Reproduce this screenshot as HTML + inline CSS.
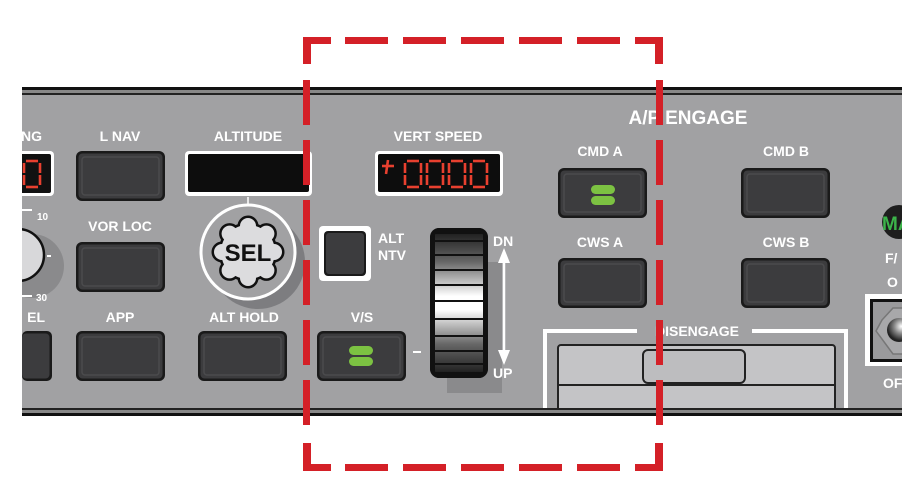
<!DOCTYPE html>
<html><head><meta charset="utf-8"><style>
html,body{margin:0;padding:0;background:#fff;width:920px;height:504px;overflow:hidden}
svg{display:block}
text{font-family:"Liberation Sans",sans-serif;font-weight:bold;fill:#fff}
</style></head><body>
<svg width="920" height="504" viewBox="0 0 920 504" xmlns="http://www.w3.org/2000/svg">
<defs>
<linearGradient id="wh" x1="0" y1="0" x2="0" y2="1">
<stop offset="0" stop-color="#222"/><stop offset="0.2" stop-color="#666"/><stop offset="0.45" stop-color="#fff"/><stop offset="0.55" stop-color="#fff"/><stop offset="0.8" stop-color="#666"/><stop offset="1" stop-color="#222"/>
</linearGradient>
<radialGradient id="tg" cx="0.6" cy="0.35" r="0.6"><stop offset="0" stop-color="#fff"/><stop offset="0.5" stop-color="#888"/><stop offset="1" stop-color="#222"/></radialGradient>
<g id="btn"><rect x="0" y="0" width="89" height="50" rx="6" fill="#1a1a1a"/><rect x="2.5" y="2.5" width="84" height="45" rx="4" fill="#3c3c3e"/><rect x="6" y="6" width="77" height="38" rx="3" fill="none" stroke="#4b4b4d" stroke-width="1.5"/></g>
<g id="grn"><rect x="-12" y="-10" width="24" height="9" rx="4.5" fill="#7cc242"/><rect x="-12" y="1" width="24" height="9" rx="4.5" fill="#7cc242"/></g>
<g id="zero" fill="none" stroke="#e8402f" stroke-width="2.6">
<line x1="2" y1="0" x2="14" y2="0"/><line x1="2" y1="26" x2="14" y2="26"/>
<line x1="0" y1="2" x2="0" y2="12"/><line x1="0" y1="14" x2="0" y2="24"/>
<line x1="16" y1="2" x2="16" y2="12"/><line x1="16" y1="14" x2="16" y2="24"/>
</g>
</defs>
<!-- panel -->
<rect x="22" y="87" width="880" height="329" fill="#a1a1a3"/>
<rect x="22" y="87" width="880" height="3" fill="#111"/>
<rect x="22" y="90" width="880" height="3" fill="#888"/>
<rect x="22" y="93" width="880" height="2" fill="#222"/>

<!-- left partial -->
<text x="42" y="141" font-size="14" text-anchor="end">NG</text>
<rect x="10" y="151" width="44" height="45" rx="4" fill="#fff"/>
<rect x="13" y="154" width="38" height="39" rx="2" fill="#111"/>
<use href="#zero" x="24" y="161"/>
<circle cx="32" cy="266" r="32" fill="#8a8a8c"/>
<circle cx="18" cy="255" r="26" fill="#d8d8da" stroke="#111" stroke-width="2.5"/>
<line x1="22" y1="210" x2="32" y2="210" stroke="#fff" stroke-width="2"/>
<line x1="22" y1="296" x2="32" y2="296" stroke="#fff" stroke-width="2"/>
<text x="37" y="220" font-size="10">10</text>
<text x="36" y="301" font-size="10">30</text>
<line x1="47" y1="256" x2="51" y2="256" stroke="#fff" stroke-width="2"/>
<text x="45" y="322" font-size="14" text-anchor="end">EL</text>
<rect x="22" y="331" width="30" height="50" rx="5" fill="#1a1a1a"/><rect x="22" y="333.5" width="27.5" height="45" rx="4" fill="#3c3c3e"/>
<rect x="0" y="80" width="22" height="340" fill="#fff"/>

<!-- L NAV column -->
<text x="120" y="141" font-size="14" text-anchor="middle">L NAV</text>
<use href="#btn" x="76" y="151"/>
<text x="120" y="231" font-size="14" text-anchor="middle">VOR LOC</text>
<use href="#btn" x="76" y="242"/>
<text x="120" y="322" font-size="14" text-anchor="middle">APP</text>
<use href="#btn" x="76" y="331"/>

<!-- ALTITUDE -->
<text x="248" y="141" font-size="14" text-anchor="middle">ALTITUDE</text>
<rect x="185" y="151" width="127" height="45" rx="4" fill="#fff"/>
<rect x="188" y="154" width="121" height="38" rx="2" fill="#0d0d0d"/>
<line x1="248" y1="197" x2="248" y2="205" stroke="#fff" stroke-width="1.5"/>
<circle cx="258" cy="262" r="47" fill="#7d7d80"/>
<circle cx="248" cy="252" r="47" fill="#a1a1a3" stroke="#fff" stroke-width="3"/>
<g stroke="#111" stroke-width="5" fill="#111">
<circle cx="248" cy="252" r="27"/>
<circle cx="248" cy="226" r="8"/><circle cx="266.4" cy="233.6" r="8"/><circle cx="274" cy="252" r="8"/><circle cx="266.4" cy="270.4" r="8"/><circle cx="248" cy="278" r="8"/><circle cx="229.6" cy="270.4" r="8"/><circle cx="222" cy="252" r="8"/><circle cx="229.6" cy="233.6" r="8"/>
</g>
<g fill="#dcdcde">
<circle cx="248" cy="252" r="27"/>
<circle cx="248" cy="226" r="8"/><circle cx="266.4" cy="233.6" r="8"/><circle cx="274" cy="252" r="8"/><circle cx="266.4" cy="270.4" r="8"/><circle cx="248" cy="278" r="8"/><circle cx="229.6" cy="270.4" r="8"/><circle cx="222" cy="252" r="8"/><circle cx="229.6" cy="233.6" r="8"/>
</g>
<text x="248" y="261" font-size="24" text-anchor="middle" style="fill:#111">SEL</text>
<text x="244" y="322" font-size="14" text-anchor="middle">ALT HOLD</text>
<use href="#btn" x="198" y="331"/>

<!-- VERT SPEED -->
<text x="438" y="141" font-size="14" text-anchor="middle">VERT SPEED</text>
<rect x="375" y="151" width="128" height="45" rx="4" fill="#fff"/>
<rect x="378" y="154" width="122" height="38" rx="2" fill="#0d0d0d"/>
<g stroke="#e8402f" stroke-width="2.6"><line x1="382" y1="166" x2="394" y2="166"/><line x1="388" y1="160" x2="386" y2="174"/></g>
<use href="#zero" x="405" y="161"/><use href="#zero" x="427" y="161"/><use href="#zero" x="449" y="161"/><use href="#zero" x="471" y="161"/>

<!-- ALT NTV -->
<rect x="319" y="226" width="52" height="55" rx="4" fill="#fff"/>
<rect x="324" y="231" width="42" height="45" rx="4" fill="#1a1a1a"/>
<rect x="326" y="233" width="38" height="41" rx="3" fill="#3c3c3e"/>
<text x="378" y="243" font-size="14">ALT</text>
<text x="378" y="260" font-size="14">NTV</text>
<text x="362" y="322" font-size="14" text-anchor="middle">V/S</text>
<use href="#btn" x="317" y="331"/>
<use href="#grn" x="361" y="356"/>
<rect x="413" y="351" width="8" height="2" fill="#fff"/>

<!-- wheel -->
<rect x="447" y="262" width="55" height="131" fill="#8a8a8c"/>
<rect x="430" y="228" width="58" height="150" rx="9" fill="#111"/>
<rect x="435" y="234" width="48" height="138" fill="url(#wh)"/>
<g stroke="#111" stroke-width="2">
<line x1="435" y1="241" x2="483" y2="241"/><line x1="435" y1="255" x2="483" y2="255"/><line x1="435" y1="270" x2="483" y2="270"/><line x1="435" y1="285" x2="483" y2="285"/><line x1="435" y1="301" x2="483" y2="301"/><line x1="435" y1="319" x2="483" y2="319"/><line x1="435" y1="336" x2="483" y2="336"/><line x1="435" y1="351" x2="483" y2="351"/><line x1="435" y1="364" x2="483" y2="364"/>
</g>
<rect x="432" y="230" width="54" height="146" rx="8" fill="none" stroke="#111" stroke-width="4"/>
<text x="493" y="246" font-size="14">DN</text>
<text x="493" y="378" font-size="14">UP</text>
<line x1="504" y1="258" x2="504" y2="355" stroke="#fff" stroke-width="2.5"/>
<polygon points="498,263 510,263 504,248" fill="#fff"/>
<polygon points="498,350 510,350 504,365" fill="#fff"/>

<!-- A/P ENGAGE -->
<text x="688" y="124" font-size="19" text-anchor="middle">A/P ENGAGE</text>
<text x="600" y="156" font-size="14" text-anchor="middle">CMD A</text>
<use href="#btn" x="558" y="168"/>
<use href="#grn" x="603" y="195"/>
<text x="786" y="156" font-size="14" text-anchor="middle">CMD B</text>
<use href="#btn" x="741" y="168"/>
<text x="600" y="247" font-size="14" text-anchor="middle">CWS A</text>
<use href="#btn" x="558" y="258"/>
<text x="786" y="247" font-size="14" text-anchor="middle">CWS B</text>
<use href="#btn" x="741" y="258"/>

<!-- disengage -->
<polyline points="637,331 545,331 545,410" fill="none" stroke="#fff" stroke-width="4"/>
<polyline points="752,331 846,331 846,410" fill="none" stroke="#fff" stroke-width="4"/>
<text x="697" y="336" font-size="14" text-anchor="middle">DISENGAGE</text>
<rect x="558" y="345" width="277" height="70" rx="3" fill="#c4c4c6" stroke="#222" stroke-width="2"/>
<line x1="558" y1="385" x2="835" y2="385" stroke="#222" stroke-width="2"/>
<rect x="643" y="350" width="102" height="33" rx="5" fill="#bdbdbf" stroke="#222" stroke-width="2"/>

<!-- right partial -->
<circle cx="899" cy="222" r="17" fill="#1e1e1e"/>
<text x="882" y="230" font-size="19" style="fill:#3cb44a">MA</text>
<text x="885" y="263" font-size="14">F/</text>
<text x="887" y="287" font-size="14">O</text>
<rect x="865" y="294" width="40" height="72" fill="#fff"/>
<rect x="870" y="299" width="35" height="63" fill="#111"/>
<rect x="873" y="302" width="32" height="57" fill="#9a9a9c"/>
<polygon points="882,320 893,308 905,308 905,354 893,354 876,331" fill="#a8a8aa" stroke="#777" stroke-width="1.5"/>
<circle cx="899" cy="330" r="12" fill="url(#tg)"/>
<text x="883" y="388" font-size="14">OF</text>

<rect x="22" y="408" width="880" height="2" fill="#222"/>
<rect x="22" y="410" width="880" height="3" fill="#888"/>
<rect x="22" y="413" width="880" height="3" fill="#111"/>
<rect x="902" y="80" width="18" height="340" fill="#fff"/>

<!-- red dashed frame -->
<g fill="#d42027">
<path d="M303 37 H331 V44 H311 V64 H303 Z"/>
<path d="M663 37 H635 V44 H655 V64 H663 Z"/>
<path d="M303 471 H331 V464 H311 V443 H303 Z"/>
<path d="M663 471 H635 V464 H655 V443 H663 Z"/>
<rect x="345" y="37" width="43" height="7"/><rect x="403" y="37" width="43" height="7"/><rect x="461" y="37" width="43" height="7"/><rect x="519" y="37" width="43" height="7"/><rect x="577" y="37" width="43" height="7"/>
<rect x="345" y="464" width="43" height="7"/><rect x="403" y="464" width="43" height="7"/><rect x="461" y="464" width="43" height="7"/><rect x="519" y="464" width="43" height="7"/><rect x="577" y="464" width="43" height="7"/>
<rect x="303" y="80" width="7" height="45"/><rect x="303" y="140" width="7" height="45"/><rect x="303" y="200" width="7" height="45"/><rect x="303" y="260" width="7" height="45"/><rect x="303" y="320" width="7" height="45"/><rect x="303" y="380" width="7" height="45"/>
<rect x="656" y="80" width="7" height="45"/><rect x="656" y="140" width="7" height="45"/><rect x="656" y="200" width="7" height="45"/><rect x="656" y="260" width="7" height="45"/><rect x="656" y="320" width="7" height="45"/><rect x="656" y="380" width="7" height="45"/>
</g>
</svg>
</body></html>
